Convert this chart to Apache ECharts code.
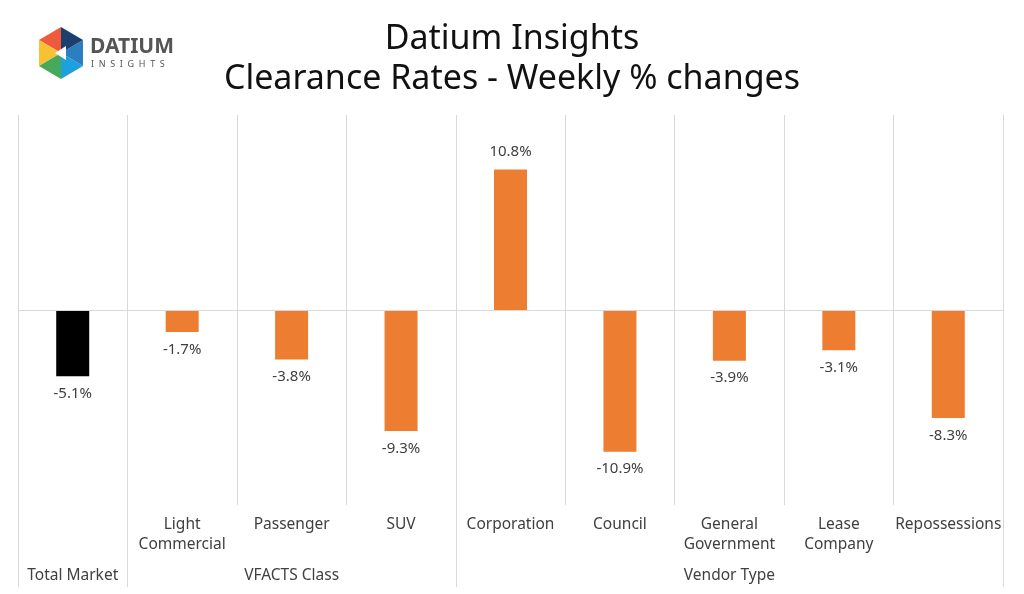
<!DOCTYPE html>
<html lang="en">
  <head>
    <meta charset="UTF-8" />
    <title>Datium Insights - Clearance Rates</title>
    <script src="https://cdnjs.cloudflare.com/ajax/libs/echarts/6.0.0/echarts.min.js"></script>
    <style>
      html, body { margin: 0; padding: 0; background: #fff; }
    </style>
  </head>
  <body>
    <div id="main" style="width: 1024px; height: 594px"></div>
    <script>
      // data
      var categories = ["Total Market", "Light\nCommercial", "Passenger", "SUV", "Corporation", "Council", "General\nGovernment", "Lease\nCompany", "Repossessions"];
      var values = [-5.1, -1.7, -3.8, -9.3, 10.8, -10.9, -3.9, -3.1, -8.3];
      var groupLabels = ["Total Market", "VFACTS Class", "Vendor Type"];
      var groupSizes = [1, 3, 5];

      var font = "Noto Sans, DejaVu Sans, sans-serif";
      var gridColor = "#d9d9d9";
      var textColor = "#404040";
      var yMin = -15, yMax = 15;

      // group label sits on the middle category of each group, separators at group starts
      var groupRow = categories.map(function () { return ""; });
      var sepData = [];
      var singles = [];
      var start = 0;
      groupSizes.forEach(function (n, i) {
        sepData.push([start, yMin, 0]);
        groupRow[start + Math.floor(n / 2)] = groupLabels[i];
        if (n === 1) singles.push(start);
        start += n;
      });
      sepData.push([categories.length - 1, yMin, 1]); // right edge of last group

      var barData = values.map(function (v, i) {
        return {
          value: v,
          itemStyle: { color: i === 0 ? "#000000" : "#ed7d31" },
          label: { position: v >= 0 ? "top" : "bottom" }
        };
      });

      var myChart = echarts.init(document.getElementById("main"));
      var option = {
        animation: false,
        textStyle: { fontFamily: font },
        title: {
          text: "Datium Insights\nClearance Rates - Weekly % changes",
          left: "center",
          top: 14,
          textStyle: { fontSize: 34, fontWeight: "normal", color: "#111", lineHeight: 40, fontFamily: font }
        },
        grid: { left: 18, right: 21, top: 115, bottom: 89 },
        xAxis: [
          {
            type: "category",
            data: categories,
            position: "bottom",
            axisLine: { show: false },
            axisTick: { show: false },
            splitLine: { show: true, interval: 0, lineStyle: { color: gridColor } },
            axisLabel: {
              interval: 0, margin: 10, fontSize: 15.5, lineHeight: 20, color: textColor, fontFamily: font,
              // a group of one category shows its name only on the lower row
              formatter: function (v, i) { return singles.indexOf(i) >= 0 ? "" : v; }
            }
          },
          {
            type: "category",
            data: groupRow,
            position: "bottom",
            axisLine: { show: false },
            axisTick: { show: false },
            splitLine: { show: false },
            axisLabel: { interval: 0, margin: 63, fontSize: 15.5, color: textColor, fontFamily: font }
          }
        ],
        yAxis: { type: "value", min: yMin, max: yMax, show: false },
        series: [
          {
            type: "bar",
            data: barData,
            barWidth: 33,
            label: {
              show: true,
              distance: 10,
              fontSize: 15,
              color: textColor,
              fontFamily: font,
              formatter: function (p) { return p.value.toFixed(1) + "%"; }
            },
            markLine: {
              silent: true,
              symbol: "none",
              label: { show: false },
              lineStyle: { color: gridColor, type: "solid", width: 1 },
              data: [{ yAxis: 0 }]
            }
          },
          {
            // long separators between the category groups, under the axis
            type: "custom",
            silent: true,
            clip: false,
            data: sepData,
            renderItem: function (params, api) {
              var w = api.size([1, 0])[0];
              var p = api.coord([api.value(0), api.value(1)]);
              var x = Math.round(p[0] - w / 2 + api.value(2) * w) + 0.5;
              return {
                type: "line",
                shape: { x1: x, y1: p[1], x2: x, y2: p[1] + 82 },
                style: { stroke: gridColor, lineWidth: 1 }
              };
            }
          }
        ],
        graphic: [
          // logo hexagon, made of six coloured triangles
          { type: "polygon", shape: { points: [[61, 53], [61, 27], [39, 40]] }, style: { fill: "#ef5a3c" } },
          { type: "polygon", shape: { points: [[61, 53], [39, 40], [39, 66]] }, style: { fill: "#f6c234" } },
          { type: "polygon", shape: { points: [[61, 53], [39, 66], [61, 79]] }, style: { fill: "#45a85a" } },
          { type: "polygon", shape: { points: [[61, 53], [61, 79], [83, 66]] }, style: { fill: "#1ea0dc" } },
          { type: "polygon", shape: { points: [[61, 53], [83, 66], [83, 40]] }, style: { fill: "#2b7fc0" } },
          { type: "polygon", shape: { points: [[61, 53], [83, 40], [61, 27]] }, style: { fill: "#1d3f6e" } },
          { type: "polygon", shape: { points: [[55, 53], [66, 46], [66, 60]] }, style: { fill: "#ffffff" } },
          { type: "text", left: 90, top: 37, style: { text: "DATIUM", fontSize: 21, fontWeight: "bold", fill: "#555", fontFamily: font } },
          { type: "text", left: 91, top: 60, style: { text: "I  N  S  I  G  H  T  S", fontSize: 9, fill: "#555", fontFamily: font } }
        ]
      };
      myChart.setOption(option);
    </script>
  </body>
</html>
